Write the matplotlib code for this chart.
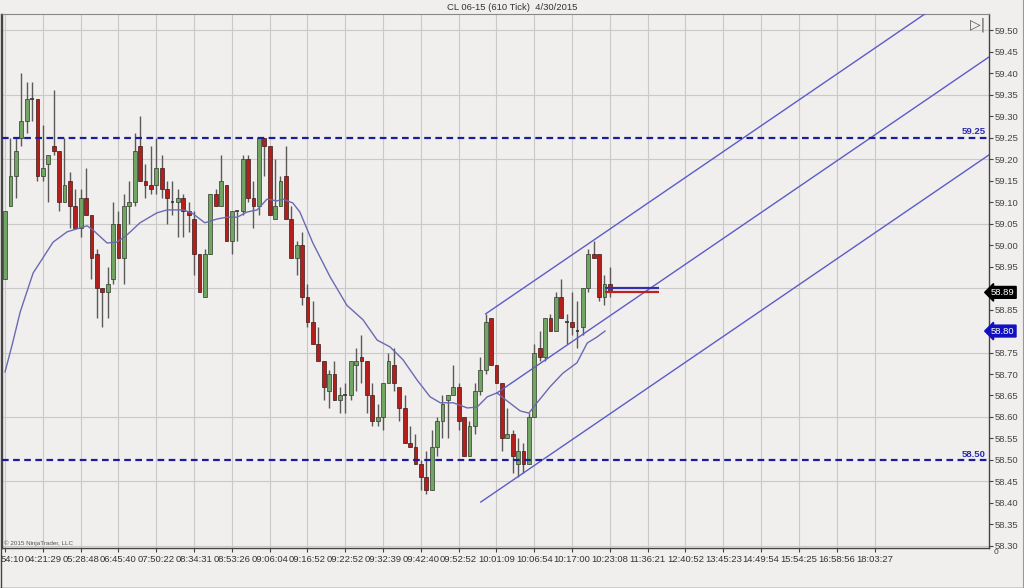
import matplotlib
matplotlib.use("Agg")
import matplotlib.pyplot as plt
import matplotlib.transforms as mtransforms
from matplotlib.lines import Line2D

plt.rcParams['font.family'] = ['Liberation Sans', 'DejaVu Sans']

# ---- data (610 tick bars of CL 06-15) ----
opens = [58.92, 59.09, 59.16, 59.25, 59.29, 59.34, 59.34, 59.16, 59.19, 59.23,
         59.22, 59.10, 59.15, 59.09, 59.04, 59.11, 59.07, 58.98, 58.90, 58.89,
         58.92, 59.05, 58.97, 59.09, 59.10, 59.23, 59.15, 59.14, 59.14, 59.18,
         59.13, 59.10, 59.10, 59.11, 59.08, 59.06, 58.98, 58.88, 58.98, 59.12,
         59.09, 59.14, 59.01, 59.08, 59.08, 59.20, 59.11, 59.09, 59.25, 59.23,
         59.06, 59.09, 59.16, 59.06, 58.97, 59.00, 58.88, 58.82, 58.77, 58.73,
         58.66, 58.70, 58.64, 58.65, 58.65, 58.72, 58.74, 58.73, 58.65, 58.59,
         58.60, 58.68, 58.72, 58.67, 58.62, 58.54, 58.53, 58.49, 58.46, 58.43,
         58.53, 58.59, 58.64, 58.65, 58.67, 58.60, 58.51, 58.58, 58.66, 58.71,
         58.83, 58.72, 58.68, 58.55, 58.56, 58.49, 58.52, 58.49, 58.60, 58.76,
         58.74, 58.83, 58.80, 58.88, 58.82, 58.82, 58.80, 58.81, 58.90, 58.98,
         58.98, 58.88, 58.91]
highs = [59.08, 59.25, 59.25, 59.40, 59.38, 59.38, 59.34, 59.28, 59.21, 59.36,
         59.22, 59.25, 59.17, 59.13, 59.13, 59.18, 59.07, 58.99, 58.90, 58.95,
         59.10, 59.08, 59.12, 59.15, 59.26, 59.30, 59.19, 59.23, 59.25, 59.21,
         59.15, 59.15, 59.13, 59.12, 59.10, 59.08, 58.98, 58.99, 59.12, 59.13,
         59.21, 59.14, 59.08, 59.08, 59.21, 59.21, 59.15, 59.25, 59.25, 59.23,
         59.20, 59.16, 59.23, 59.09, 59.01, 59.03, 58.91, 58.87, 58.81, 58.73,
         58.71, 58.73, 58.67, 58.68, 58.73, 58.76, 58.79, 58.73, 58.68, 58.63,
         58.68, 58.75, 58.76, 58.67, 58.65, 58.58, 58.56, 58.50, 58.52, 58.57,
         58.60, 58.65, 58.65, 58.72, 58.68, 58.60, 58.59, 58.68, 58.74, 58.84,
         58.83, 58.72, 58.68, 58.62, 58.57, 58.55, 58.54, 58.61, 58.77, 58.80,
         58.83, 58.84, 58.89, 58.92, 58.84, 58.89, 58.87, 58.90, 58.99, 59.01,
         58.98, 58.93, 58.95]
lows = [58.92, 59.09, 59.11, 59.23, 59.26, 59.29, 59.15, 59.15, 59.10, 59.21,
        59.08, 59.10, 59.04, 59.04, 59.02, 59.07, 58.92, 58.83, 58.81, 58.83,
        58.91, 58.97, 58.91, 59.05, 59.09, 59.15, 59.11, 59.12, 59.12, 59.11,
        59.05, 59.07, 59.02, 59.02, 59.03, 58.93, 58.89, 58.88, 58.98, 59.09,
        59.09, 59.01, 58.98, 59.01, 59.07, 59.10, 59.04, 59.07, 59.16, 59.07,
        59.06, 59.09, 59.06, 58.97, 58.93, 58.86, 58.81, 58.77, 58.73, 58.64,
        58.62, 58.64, 58.61, 58.61, 58.64, 58.66, 58.68, 58.61, 58.58, 58.58,
        58.57, 58.68, 58.66, 58.59, 58.54, 58.53, 58.49, 58.43, 58.42, 58.43,
        58.51, 58.55, 58.55, 58.65, 58.57, 58.51, 58.51, 58.56, 58.65, 58.70,
        58.72, 58.68, 58.52, 58.55, 58.47, 58.46, 58.47, 58.49, 58.60, 58.73,
        58.73, 58.80, 58.80, 58.83, 58.77, 58.79, 58.76, 58.79, 58.89, 58.97,
        58.87, 58.86, 58.88]
closes = [59.08, 59.16, 59.22, 59.29, 59.34, 59.34, 59.16, 59.18, 59.21, 59.22,
          59.10, 59.14, 59.09, 59.04, 59.11, 59.07, 58.97, 58.90, 58.89, 58.91,
          59.05, 58.97, 59.09, 59.10, 59.22, 59.15, 59.14, 59.13, 59.18, 59.13,
          59.11, 59.10, 59.11, 59.08, 59.07, 58.98, 58.89, 58.98, 59.12, 59.09,
          59.15, 59.01, 59.08, 59.08, 59.20, 59.11, 59.09, 59.25, 59.23, 59.07,
          59.09, 59.15, 59.06, 58.97, 59.00, 58.88, 58.82, 58.77, 58.73, 58.67,
          58.70, 58.64, 58.65, 58.65, 58.73, 58.73, 58.73, 58.65, 58.59, 58.60,
          58.68, 58.73, 58.68, 58.62, 58.54, 58.53, 58.49, 58.46, 58.43, 58.53,
          58.59, 58.63, 58.65, 58.67, 58.59, 58.51, 58.58, 58.66, 58.71, 58.82,
          58.72, 58.68, 58.55, 58.56, 58.51, 58.52, 58.49, 58.60, 58.75, 58.74,
          58.83, 58.80, 58.88, 58.83, 58.82, 58.81, 58.80, 58.90, 58.98, 58.97,
          58.88, 58.91, 58.89]

# moving average (bar position, value) as drawn
ma_bar = [0, 1.3, 2.8, 5.2, 8.9, 11.5, 13.9, 15.2, 16.3, 18.9, 20.7, 22.6, 25.0,
          28.1, 30.0, 33.0, 34.6, 37.0, 39.3, 41.1, 43.0, 44.8, 46.7, 48.5, 50.4,
          51.5, 53.3, 54.6, 57.0, 60.2, 63.3, 66.3, 68.9, 71.3, 73.7, 76.3, 78.7,
          80.6, 83.0, 85.6, 87.4, 89.3, 91.1, 93.0, 95.4, 97.0, 98.5, 100.9,
          103.3, 105.9, 107.8, 109.6, 111.1]
ma_val = [58.705, 58.767, 58.844, 58.935, 59.007, 59.031, 59.040, 59.045, 59.035,
          59.005, 59.007, 59.024, 59.052, 59.075, 59.082, 59.082, 59.075, 59.052,
          59.061, 59.065, 59.065, 59.077, 59.082, 59.107, 59.103, 59.107, 59.098,
          59.077, 59.005, 58.926, 58.860, 58.826, 58.779, 58.763, 58.733, 58.686,
          58.647, 58.633, 58.633, 58.621, 58.623, 58.647, 58.656, 58.637, 58.614,
          58.609, 58.633, 58.670, 58.702, 58.726, 58.772, 58.786, 58.800]

# trend channel lines (start bar, start price, end bar, end price)
channel = [(89.0, 58.84, 182.2, 59.64),
           (91.1, 58.656, 182.2, 59.438),
           (88.1, 58.402, 182.2, 59.21)]

levels = [59.25, 58.50]
last_price = 58.89
ma_last = 58.80
bid_ask = [(58.90, "#3030b0"), (58.89, "#c02020")]

tick_bars = list(range(0, 168, 7))
first_label = "54:10"   # only the tail of this time label shows at the left edge
tick_labels = ["", "04:21:29", "05:28:48", "06:45:40", "07:50:22", "08:34:31",
               "08:53:26", "09:06:04", "09:16:52", "09:22:52", "09:32:39", "09:42:40",
               "09:52:52", "10:01:09", "10:06:54", "10:17:00", "10:23:08", "11:36:21",
               "12:40:52", "13:45:23", "14:49:54", "15:54:25", "16:58:56", "18:03:27"]
price_ticks = [round(58.30 + 0.05 * i, 2) for i in range(25)]
grid_prices = [58.30, 58.45, 58.60, 58.75, 58.90, 59.05, 59.20, 59.35, 59.50]

# ---- figure ----
bg = "#f0efed"
fig = plt.figure(figsize=(10.24, 5.88), dpi=100, facecolor=bg)
ax = fig.add_axes([2 / 1024, 40 / 588, 987 / 1024, 534 / 588], facecolor=bg)
ax.set_xlim(-0.56, 182.2)
ax.set_ylim(58.295, 59.538)

for gp in grid_prices:
    ax.axhline(gp, color="#c9c9c9", lw=0.8, zorder=0)
ax.set_xticks(tick_bars)
ax.set_xticklabels(tick_labels)
ax.grid(axis="x", color="#c9c9c9", lw=0.8, zorder=0)
ax.set_axisbelow(True)

# candles
for i in range(len(opens)):
    o, h, l, c = opens[i], highs[i], lows[i], closes[i]
    ax.vlines(i, l, h, color="#5a5a5a", lw=1, zorder=2)
    if c > o:
        ax.bar(i, c - o, bottom=o, width=0.7, color="#72a563", edgecolor="#2e3a2a",
               lw=0.5, zorder=3)
    elif c < o:
        ax.bar(i, o - c, bottom=c, width=0.7, color="#b41f1c", edgecolor="#3a1a1a",
               lw=0.5, zorder=3)
    else:
        ax.hlines(o, i - 0.35, i + 0.35, color="#333333", lw=1.2, zorder=3)

ax.plot(ma_bar, ma_val, color="#6a6ab4", lw=1, zorder=4)

for b0, p0, b1, p1 in channel:
    ax.plot([b0, b1], [p0, p1], color="#5c5cc8", lw=1, zorder=4)

trans = mtransforms.blended_transform_factory(ax.transAxes, ax.transData)
for lv in levels:
    ax.axhline(lv, color="#1c1c9c", lw=1.6, linestyle=(0, (3, 2)), zorder=5)
    ax.text(0.997, lv + 0.003, f"{lv:.2f}", transform=trans, ha="right", va="bottom",
            fontsize=6.8, color="#2a2aaa", fontweight="bold", zorder=6)

for p, col in bid_ask:
    ax.hlines(p, 111.1, 121.1, color=col, lw=1.6, zorder=5)

# axes styling (labels hidden behind the price markers are left blank)
ax.yaxis.tick_right()
ax.set_yticks(price_ticks)
ax.set_yticklabels(["" if p in (58.80, 58.90) else f"{p:.2f}" for p in price_ticks])
ax.tick_params(axis="y", direction="out", length=3, width=0.8, pad=1,
               labelsize=6.8, colors="#444444", labelcolor="#444444")
ax.tick_params(axis="x", direction="out", length=3, width=0.8, pad=2,
               labelsize=6.8, colors="#444444", labelcolor="#333333")
for side in ["left", "bottom", "right"]:
    ax.spines[side].set_color("#444444")
    ax.spines[side].set_linewidth(1)
ax.spines["top"].set_color("#888888")
ax.spines["top"].set_linewidth(0.8)

fig.text(1 / 1024, 1 - 559 / 588, first_label, ha="left", va="center", fontsize=6.8,
         color="#333333")

# price markers on the axis
ax.text(1.002, last_price, f"{last_price:.2f}", transform=trans, ha="left", va="center",
        fontsize=6.8, color="white",
        bbox=dict(boxstyle="larrow,pad=0.15", fc="black", ec="black"), clip_on=False)
ax.text(1.002, ma_last, f"{ma_last:.2f}", transform=trans, ha="left", va="center",
        fontsize=6.8, color="white",
        bbox=dict(boxstyle="larrow,pad=0.15", fc="#1010c0", ec="#1010c0"), clip_on=False)

ax.text(0.002, 0.004, "\u00a9 2015 NinjaTrader, LLC", transform=ax.transAxes,
        fontsize=4.5, color="#555555", ha="left", va="bottom")

fig.text(0.5, 1 - 7 / 588, "CL 06-15 (610 Tick)  4/30/2015", ha="center", va="center",
         fontsize=6.8, color="#333333")
fig.text(978 / 1024, 1 - 25 / 588, "\u25b7|", ha="center", va="center", fontsize=10,
         color="#555555", family="DejaVu Sans")
fig.text(994 / 1024, 1 - 553 / 588, "0", ha="left", va="center", fontsize=6,
         color="#444444")

# outer frame
fig.add_artist(Line2D([0.5 / 1024, 0.5 / 1024], [0, 1 - 14 / 588], color="#444444", lw=1))
fig.add_artist(Line2D([0, 1], [0.5 / 588, 0.5 / 588], color="#444444", lw=1))
fig.add_artist(Line2D([1023 / 1024, 1023 / 1024], [0, 1], color="#999999", lw=0.8))

fig.savefig("out.png", dpi=100, facecolor=bg)
